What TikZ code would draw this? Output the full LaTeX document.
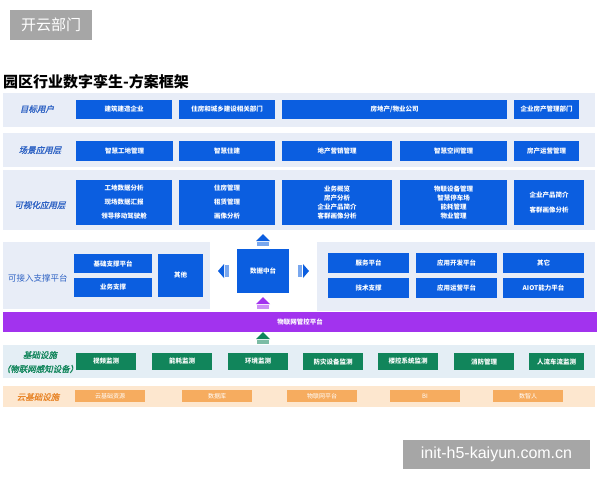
\documentclass[tikz,border=0pt]{standalone}
\usepackage{fontspec}
\setmainfont{Liberation Sans}
\newfontfamily\cjk{Noto Sans CJK SC}
\newfontfamily\cjksl[FakeSlant=0.22,FakeBold=1.2]{Noto Sans CJK SC}
\definecolor{rowbg}{HTML}{E8EDF7}
\definecolor{greenbg}{HTML}{E4EEF5}
\definecolor{orangebg}{HTML}{FDE7CF}
\definecolor{boxblue}{HTML}{0B5EE0}
\definecolor{lblblue}{HTML}{2F63C4}
\definecolor{purp}{HTML}{A233EE}
\definecolor{grn}{HTML}{11855B}
\definecolor{orng}{HTML}{F6AC5F}
\definecolor{orlbl}{HTML}{E8862A}
\definecolor{wm}{HTML}{A6A6A6}
\newcommand\rbox[7]{\node[#1, minimum width={#4-#2}, minimum height={#5-#3}] (#6) at (#2,#3) {#7};}
\begin{document}
\begin{tikzpicture}[x=1pt,y=-1pt,
  base/.style={inner sep=0pt, outer sep=0pt, anchor=north west, align=center},
  bgrow/.style={base, fill=rowbg},
  bbox/.style={base, fill=boxblue, text=white, font=\cjk\bfseries\fontsize{6.5}{9}\selectfont},
  gbox/.style={base, fill=grn, text=white, font=\cjk\bfseries\fontsize{6.5}{9}\selectfont},
  obox/.style={base, fill=orng, text=white, font=\cjk\fontsize{6}{8}\selectfont},
  lbl/.style={font=\cjksl\fontsize{8.5}{11}\selectfont, text=lblblue, align=center},
  wmark/.style={base, fill=wm, text=white}]
\useasboundingbox (0,0) rectangle (600,480);
\fill[white] (0,0) rectangle (600,480);
% watermarks
\rbox{wmark,font=\cjk\fontsize{15}{18}\selectfont}{10}{10}{92}{40}{wm1}{开云部门}
\rbox{wmark,font=\fontsize{16}{18}\selectfont}{403}{440}{590}{469}{wm2}{init-h5-kaiyun.com.cn}
% title
\node[anchor=west, inner sep=0pt, font=\cjk\bfseries\fontsize{15}{18}\selectfont] (title) at (3,82) {园区行业数字孪生-方案框架};
% row 1
\rbox{bgrow}{3}{93}{595}{127}{bg1}{}
\node[lbl] (l1) at (37,109) {目标用户};
\rbox{bbox}{76}{100}{172}{119}{a1}{建筑建造企业}
\rbox{bbox}{179}{100}{275}{119}{a2}{住房和城乡建设相关部门}
\rbox{bbox}{282}{100}{507}{119}{a3}{房地产/物业公司}
\rbox{bbox}{514}{100}{579}{119}{a4}{企业房产管理部门}
% row 2
\rbox{bgrow}{3}{133}{595}{167}{bg2}{}
\node[lbl] (l2) at (40,150) {场景应用层};
\rbox{bbox}{76}{141}{173}{161}{b1}{智慧工地管理}
\rbox{bbox}{179}{141}{275}{161}{b2}{智慧住建}
\rbox{bbox}{282}{141}{392}{161}{b3}{地产营销管理}
\rbox{bbox}{400}{141}{507}{161}{b4}{智慧空间管理}
\rbox{bbox}{514}{141}{579}{161}{b5}{房产运营管理}
% row 3
\rbox{bgrow}{3}{170}{595}{230}{bg3}{}
\node[lbl] (l3) at (40,205) {可视化应用层};
\rbox{bbox}{76}{180}{172}{225}{c1}{工地数据分析\\[5pt]现场数据汇报\\[5pt]领导移动驾驶舱}
\rbox{bbox}{179}{180}{275}{225}{c2}{住房管理\\[5pt]租赁管理\\[5pt]画像分析}
\rbox{bbox}{282}{180}{392}{225}{c3}{业务概览\\房产分析\\企业产品简介\\客群画像分析}
\rbox{bbox}{400}{180}{507}{225}{c4}{物联设备管理\\智慧停车场\\能耗管理\\物业管理}
\rbox{bbox}{514}{180}{584}{225}{c5}{企业产品简介\\[6pt]客群画像分析}
% row 4
\rbox{bgrow}{3}{242}{210}{309}{bg4l}{}
\rbox{bgrow}{317}{242}{595}{311}{bg4r}{}
\node[lbl, font=\cjk\fontsize{8.5}{11}\selectfont] (l4) at (38,278) {可接入支撑平台};
\rbox{bbox}{74}{254}{152}{273}{d1}{基础支撑平台}
\rbox{bbox}{74}{278}{152}{297}{d2}{业务支撑}
\rbox{bbox}{158}{254}{203}{297}{d3}{其他}
\rbox{bbox}{237}{249}{289}{293}{dc}{数据中台}
\rbox{bbox}{328}{253}{409}{273}{e1}{服务平台}
\rbox{bbox}{416}{253}{497}{273}{e2}{应用开发平台}
\rbox{bbox}{503}{253}{584}{273}{e3}{其它}
\rbox{bbox}{328}{278}{409}{298}{e4}{技术支撑}
\rbox{bbox}{416}{278}{497}{298}{e5}{应用运营平台}
\rbox{bbox}{503}{278}{584}{298}{e6}{AIOT能力平台}
% arrows around data center
\fill[boxblue] (256,241) -- (263,234) -- (270,241) -- cycle;
\fill[boxblue!55] (257,242) rectangle (269,246);
\fill[boxblue] (224,264) -- (218,271) -- (224,278) -- cycle;
\fill[boxblue!55] (225,265) rectangle (229,277);
\fill[boxblue] (303,264) -- (309,271) -- (303,278) -- cycle;
\fill[boxblue!55] (298,265) rectangle (302,277);
\fill[purp] (256,304) -- (263,297) -- (270,304) -- cycle;
\fill[purp!55] (257,305) rectangle (269,309);
% purple bar
\rbox{base,fill=purp,text=white,font=\cjk\bfseries\fontsize{6.5}{9}\selectfont}{3}{312}{597}{332}{iot}{物联网管控平台}
\fill[grn] (256,339) -- (263,332) -- (270,339) -- cycle;
\fill[grn!55] (257,340) rectangle (269,344);
% row 5
\rbox{base,fill=greenbg}{3}{345}{595}{378}{bg5}{}
\node[lbl, text=grn] (l5) at (40,355) {基础设施};
\node[lbl, text=grn] (l5b) at (40,369) {（物联网感知设备）};
\rbox{gbox}{76}{353}{136}{370}{f1}{视频监测}
\rbox{gbox}{152}{353}{212}{370}{f2}{能耗监测}
\rbox{gbox}{228}{353}{288}{370}{f3}{环境监测}
\rbox{gbox}{303}{353}{363}{370}{f4}{防灾设备监测}
\rbox{gbox}{378}{353}{438}{370}{f5}{楼控系统监测}
\rbox{gbox}{454}{353}{514}{370}{f6}{消防管理}
\rbox{gbox}{529}{353}{584}{370}{f7}{人流车流监测}
% row 6
\rbox{base,fill=orangebg}{3}{386}{595}{407}{bg6}{}
\node[lbl, text=orlbl] (l6) at (38,397) {云基础设施};
\rbox{obox}{75}{390}{145}{402}{g1}{云基础资源}
\rbox{obox}{182}{390}{252}{402}{g2}{数据库}
\rbox{obox}{287}{390}{357}{402}{g3}{物联网平台}
\rbox{obox}{390}{390}{460}{402}{g4}{BI}
\rbox{obox}{493}{390}{563}{402}{g5}{数智人}
\end{tikzpicture}
\end{document}
